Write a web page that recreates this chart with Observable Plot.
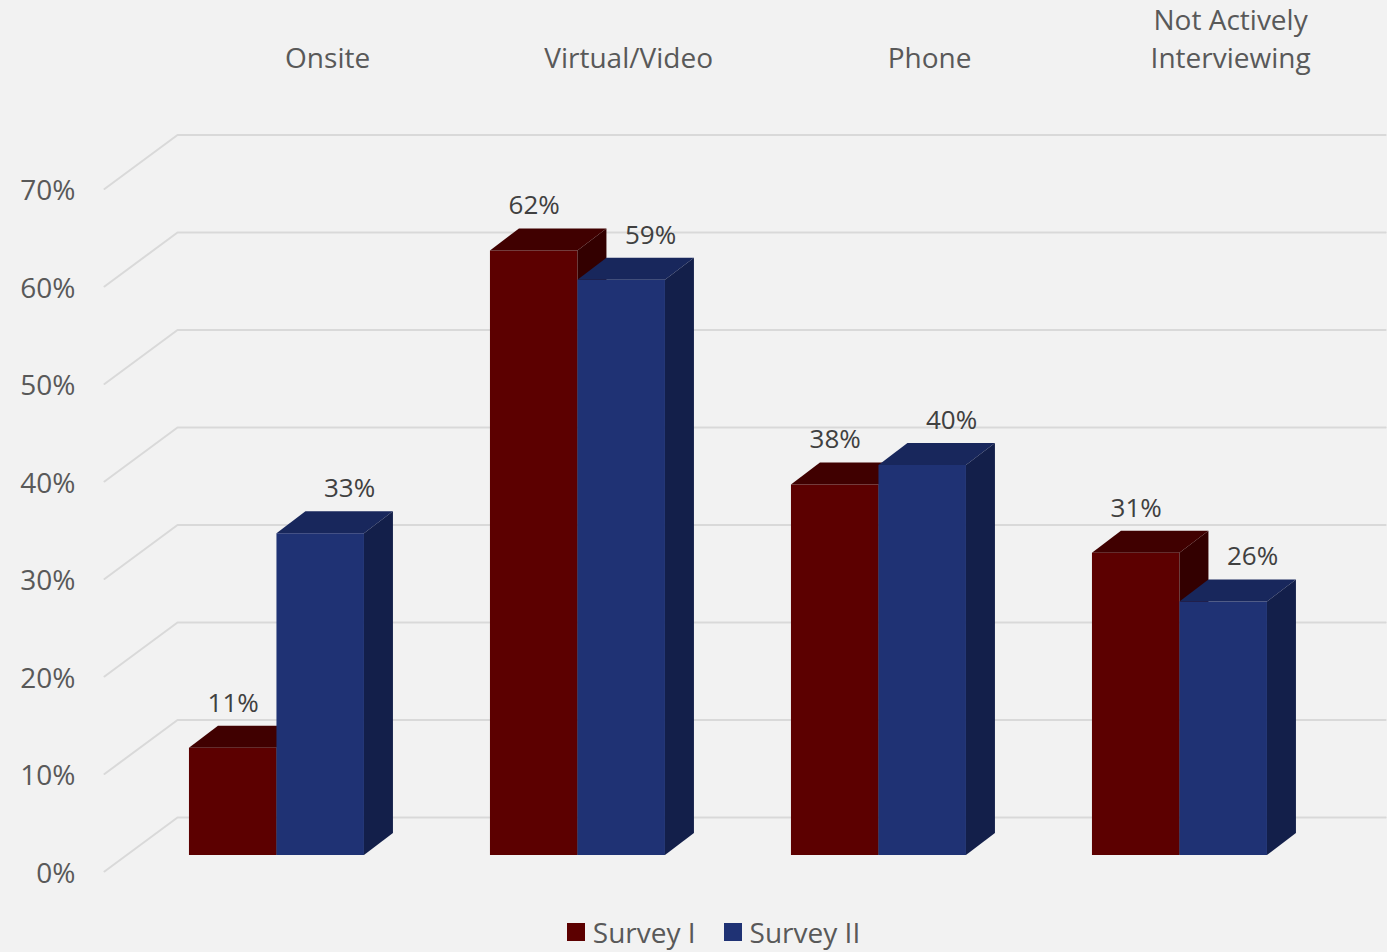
<!DOCTYPE html>
<html><head><meta charset="utf-8">
<script src="https://cdn.jsdelivr.net/npm/d3@7"></script>
<script src="https://cdn.jsdelivr.net/npm/@observablehq/plot@0.6"></script>
<style>
html,body{margin:0;padding:0;background:#f2f2f2;font-family:"Open Sans",sans-serif;overflow:hidden;}
#legend{display:flex;justify-content:center;align-items:center;gap:28px;height:38px;margin-top:8px;margin-left:40px;font-size:28px;line-height:38px;color:#595959;}
#legend .item{display:flex;align-items:center;gap:8px;}
#legend .sw{width:18px;height:18px;display:inline-block;}
</style></head>
<body><div id="chart"></div><div id="legend"></div>
<script>
// ---- data ----
const categories = ["Onsite", "Virtual/Video", "Phone", "Not Actively Interviewing"];
const seriesNames = ["Survey I", "Survey II"];
const survey1 = [11, 62, 38, 31];
const survey2 = [33, 59, 40, 26];
const yTicks = [0, 10, 20, 30, 40, 50, 60, 70];

// ---- styles / geometry ----
const faceColors = [
  {front: "#5c0000", top: "#400000", side: "#330000"},
  {front: "#1f3274", top: "#18275c", side: "#131f4a"}
];
const W = 1387, H = 905;
const UNIT = 301, ORIGIN = 291;            // px per category, px of category 0
const GROUP_LEFT = -0.339, BAR = 0.2907;   // front-face layout in category units
const DX = 0.0963, DY = 2.26;               // bar depth (x units, % units)
const WALL_DY = 3.9;                        // back wall offset from bar front
const FLOOR_DY = -1.64;                     // front floor edge offset
const WALL_LEFT = -0.3787, WALL_RIGHT = 3.635, FLOOR_LEFT = -0.6213;

const values = [survey1, survey2];
const bars = [];
categories.forEach((c, i) => {
  values.forEach((vals, s) => {
    const x1 = i + GROUP_LEFT + s * BAR;
    bars.push({cat: c, s, v: vals[i], x1, x2: x1 + BAR});
  });
});

const grid = [];
yTicks.forEach(t => {
  grid.push({t, x: FLOOR_LEFT, y: t + FLOOR_DY});
  grid.push({t, x: WALL_LEFT, y: t + WALL_DY});
  grid.push({t, x: WALL_RIGHT, y: t + WALL_DY});
});

const marks = [
  Plot.line(grid, {x: "x", y: "y", z: "t", stroke: "#d9d9d9", strokeWidth: 2}),
  Plot.text(yTicks, {x: () => -0.7176, y: d => d + FLOOR_DY - 0.25, text: d => d + "%", textAnchor: "end", lineAnchor: "middle", fill: "#595959", fontSize: 28}),
  Plot.text(categories, {x: (d, i) => i + 0.12, y: () => 80.75, text: d => d, lineAnchor: "bottom", lineWidth: 7.5, lineHeight: 1.36, fill: "#595959", fontSize: 28})
];

[0, 1].forEach(s => {
  const bs = bars.filter(b => b.s === s);
  const col = faceColors[s];
  const tops = bs.flatMap(b => [
    {cat: b.cat, y: b.v, x1: b.x1, x2: b.x2},
    {cat: b.cat, y: b.v + DY, x1: b.x1 + DX, x2: b.x2 + DX}
  ]);
  const sides = bs.flatMap(b => [
    {cat: b.cat, x: b.x2, y1: 0, y2: b.v},
    {cat: b.cat, x: b.x2 + DX, y1: DY, y2: b.v + DY}
  ]);
  marks.push(
    Plot.rect(bs, {x1: "x1", x2: "x2", y1: () => 0, y2: "v", fill: col.front}),
    Plot.areaX(tops, {y: "y", x1: "x1", x2: "x2", z: "cat", fill: col.top}),
    Plot.areaY(sides, {x: "x", y1: "y1", y2: "y2", z: "cat", fill: col.side})
  );
});

const labelDx = [0, 0.096];
marks.push(
  Plot.text(bars, {x: d => (d.x1 + d.x2) / 2 + labelDx[d.s], y: d => d.v + 4.6, text: d => d.v + "%", lineAnchor: "middle", fill: "#404040", fontSize: 26})
);

const chart = Plot.plot({
  width: W, height: H,
  margin: 0,
  style: {background: "#f2f2f2", fontFamily: "'Open Sans', sans-serif", overflow: "visible"},
  x: {type: "linear", domain: [-ORIGIN / UNIT, (W - ORIGIN) / UNIT], range: [0, W], axis: null},
  y: {type: "linear", domain: [0, 70], range: [855, 855 - 70 * 9.75], axis: null},
  marks
});
document.getElementById("chart").appendChild(chart);

const legend = document.getElementById("legend");
seriesNames.forEach((n, s) => {
  const it = document.createElement("span");
  it.className = "item";
  const sw = document.createElement("span");
  sw.className = "sw";
  sw.style.background = faceColors[s].front;
  it.appendChild(sw);
  it.appendChild(document.createTextNode(n));
  legend.appendChild(it);
});
</script>
</body></html>
